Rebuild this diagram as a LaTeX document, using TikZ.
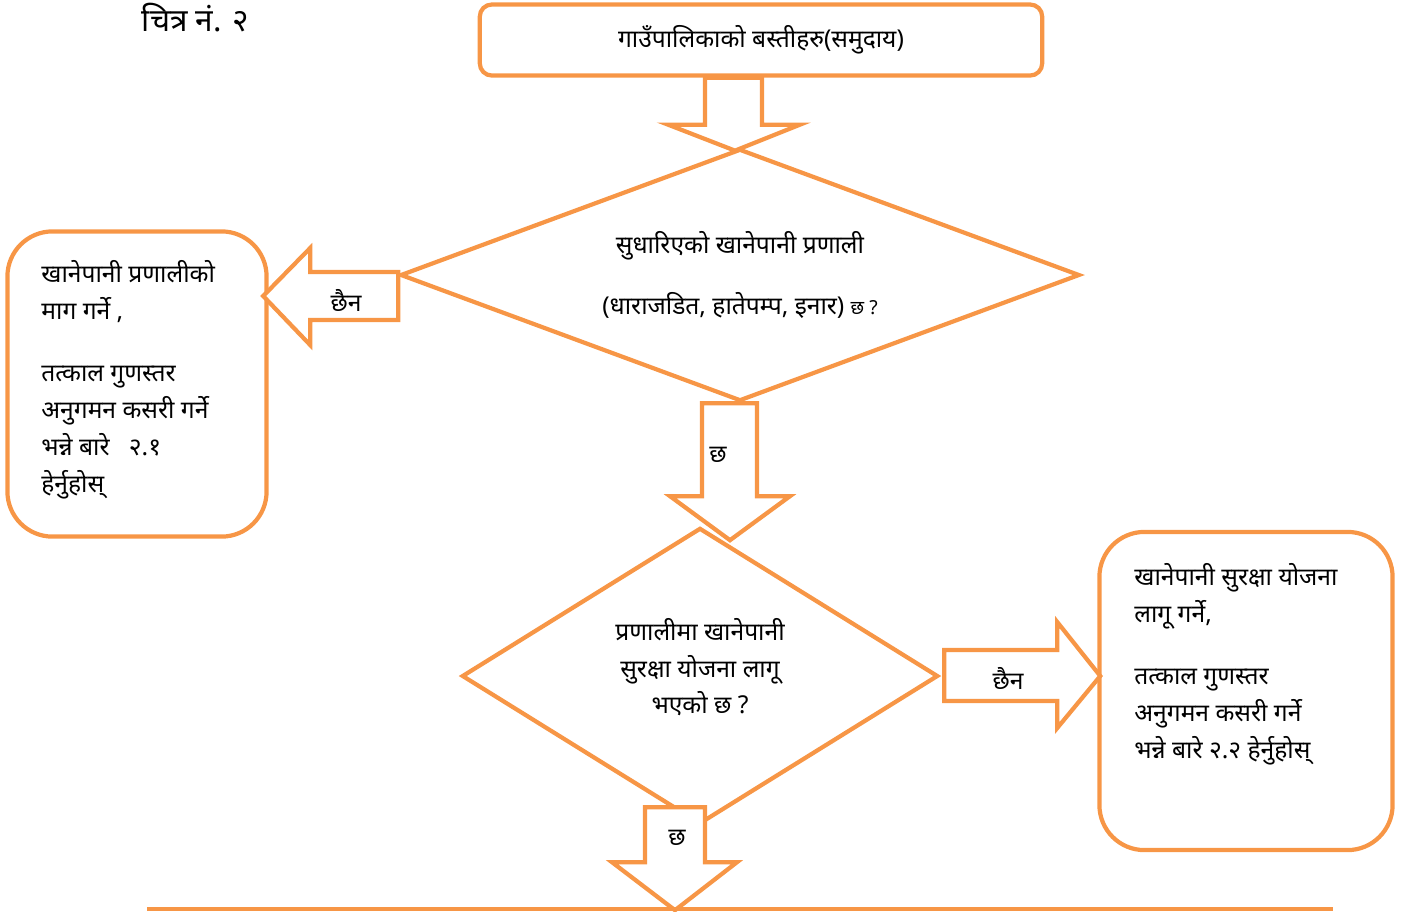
\documentclass[tikz,border=0pt]{standalone}
\usepackage{fontspec}
\setmainfont[Script=Devanagari]{Noto Sans}
\usetikzlibrary{shapes.geometric}
\definecolor{chartorange}{HTML}{F79646}

\begin{document}
\begin{tikzpicture}[x=0.01cm, y=-0.01cm, line width=1.2pt,
  font=\fontsize{7}{10.5}\selectfont,
  decision/.style={diamond, draw=chartorange, inner sep=0pt, align=center},
  roundbox/.style={draw=chartorange, rounded corners=0.45cm},
  boxtext/.style={anchor=north west, inner sep=0pt, align=left},
  blockarrow/.style={draw=chartorange, fill=white, line join=miter}]

\useasboundingbox (0,0) rectangle (1414,911);

\node [anchor=west, font=\fontsize{9}{11}\selectfont] (title) at (128,18) {चित्र नं. २};

\node [draw=chartorange, rounded corners=0.12cm, minimum width=5.62cm, minimum height=0.71cm] (vasti) at (761,40) {गाउँपालिकाको बस्तीहरु(समुदाय)};

\node [decision, aspect=2.7, minimum width=6.79cm, minimum height=2.52cm] (q1) at (740,275)
  {सुधारिएको खानेपानी प्रणाली\\[0.24cm](धाराजडित, हातेपम्प, इनार) {\fontsize{5.5}{7}\selectfont छ ?}};

\node [decision, aspect=1.6, text depth=0.2cm, minimum width=4.76cm, minimum height=2.96cm] (q2) at (700,676)
  {प्रणालीमा खानेपानी\\सुरक्षा योजना लागू\\भएको छ ?};

\node [roundbox, minimum width=2.59cm, minimum height=3.05cm] (demand) at (137,384) {};
\node [boxtext] at ([shift={(34,29)}]demand.north west)
  {खानेपानी प्रणालीको\\माग गर्ने ,\\[0.25cm]तत्काल गुणस्तर\\अनुगमन कसरी गर्ने\\भन्ने बारे \ \ २.१\\हेर्नुहोस्};

\node [roundbox, minimum width=2.93cm, minimum height=3.18cm] (plan) at (1246,691) {};
\node [boxtext] at ([shift={(35,32)}]plan.north west)
  {खानेपानी सुरक्षा योजना\\लागू गर्ने,\\[0.25cm]तत्काल गुणस्तर\\अनुगमन कसरी गर्ने\\भन्ने बारे २.२ हेर्नुहोस्};

% block arrows
\draw [blockarrow, shift={(vasti.south)}] (-56,0) -- (-56,47) -- (-93,47) -- (-26,73)
  -- (39,47) -- (1,47) -- (1,0) -- cycle;
\draw [blockarrow, shift={(q1.south)}] (-38,0) -- (-38,93) -- (-70,93) -- (-10,137)
  -- (50,93) -- (17,93) -- (17,0) -- cycle;
\draw [blockarrow, shift={(q2.south)}] (-55,-19) -- (-55,36) -- (-88,36) -- (-25,84)
  -- (37,36) -- (5,36) -- (5,-19) -- cycle;
\draw [blockarrow, shift={(q1.west)}] (0,-3) -- (-88,-3) -- (-88,-27) -- (-135,21)
  -- (-88,70) -- (-88,45) -- (0,45) -- cycle;
\draw [blockarrow, shift={(q2.east)}] (4,-26) -- (117,-26) -- (117,-54) -- (160,0)
  -- (117,52) -- (117,25) -- (4,25) -- cycle;

\node (no1) at (346,300) {छैन};
\node (yes1) at (718,455) {छ};
\node (yes2) at (677,838) {छ};
\node (no2) at (1008,678) {छैन};

\coordinate (rulel) at (147,909);
\coordinate (ruler) at (1333,909);
\draw [chartorange] (rulel) -- (ruler);

\end{tikzpicture}
\end{document}
